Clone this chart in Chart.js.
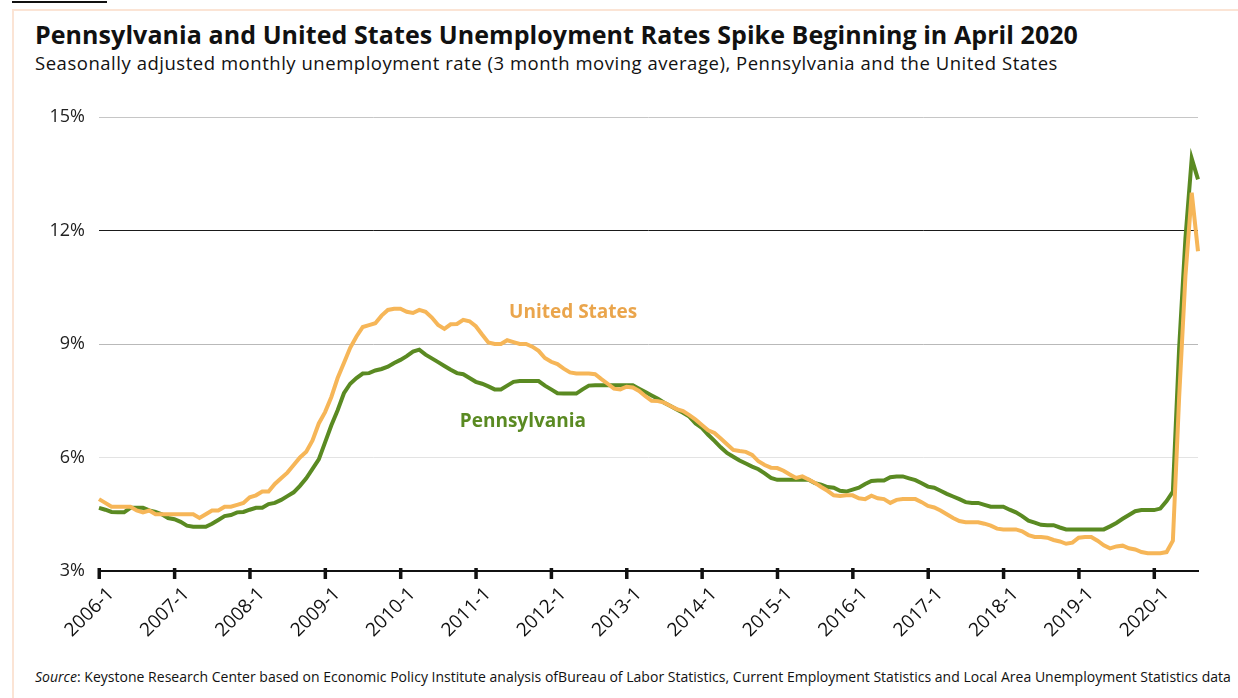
<!DOCTYPE html>
<html>
<head>
<meta charset="utf-8">
<script src="https://cdn.jsdelivr.net/npm/chart.js@4.4.0/dist/chart.umd.min.js"></script>
<style>
  body { margin: 0; width: 1238px; height: 698px; overflow: hidden; position: relative; background: #fff; font-family: 'Open Sans', sans-serif; color: #111; }
  #frame { position: absolute; left: 12px; top: 9px; width: 1240px; height: 700px; border: 2px solid #fbe4d5; }
  #figmark { position: absolute; left: 12px; top: 1px; width: 95px; height: 2px; background: #111; }
  .txt { position: absolute; left: 35px; white-space: nowrap; line-height: 1; }
  #title { top: 22px; font-size: 25px; font-weight: 700; }
  #subtitle { top: 54px; font-size: 18.5px; }
  #source { top: 670px; font-size: 14px; }
  #wrap { position: absolute; left: 0; top: 0; width: 1238px; height: 698px; }
</style>
</head>
<body>
<div id="frame"></div>
<div id="figmark"></div>
<div id="title" class="txt">Pennsylvania and United States Unemployment Rates Spike Beginning in April 2020</div>
<div id="subtitle" class="txt">Seasonally adjusted monthly unemployment rate (3 month moving average), Pennsylvania and the United States</div>
<div id="source" class="txt"><i>Source</i>: Keystone Research Center based on Economic Policy Institute analysis ofBureau of Labor Statistics, Current Employment Statistics and Local Area Unemployment Statistics data</div>
<div id="wrap"><canvas id="myChart"></canvas></div>
<script>
// monthly categories, 2006-1 through 2020-8
const firstYear = 2006;
const lastYear = 2020;
const lastMonth = 8;
const labels = [];
for (let y = firstYear; y <= lastYear; y++) {
    for (let m = 1; m <= 12; m++) {
        if (y === lastYear && m > lastMonth) break;
        labels.push(y + '-' + m);
    }
}

// United States, 3 month moving average (%)
const usRate = [
    4.9, 4.8, 4.7, 4.7, 4.7, 4.7, 4.6, 4.55, 4.6, 4.5, 4.5, 4.5,        // 2006
    4.5, 4.5, 4.5, 4.5, 4.4, 4.5, 4.6, 4.6, 4.7, 4.7, 4.75, 4.8,        // 2007
    4.95, 5.0, 5.1, 5.1, 5.3, 5.45, 5.6, 5.8, 6.0, 6.15, 6.45, 6.9,     // 2008
    7.2, 7.6, 8.1, 8.5, 8.9, 9.2, 9.45, 9.5, 9.55, 9.75, 9.9, 9.93,     // 2009
    9.93, 9.85, 9.82, 9.9, 9.85, 9.7, 9.5, 9.4, 9.52, 9.53, 9.64, 9.6,  // 2010
    9.47, 9.25, 9.04, 9.0, 9.0, 9.1, 9.05, 9.0, 9.0, 8.93, 8.82, 8.63,  // 2011
    8.53, 8.47, 8.35, 8.25, 8.22, 8.22, 8.22, 8.2, 8.07, 7.95, 7.82, 7.8, // 2012
    7.87, 7.85, 7.76, 7.62, 7.5, 7.49, 7.45, 7.36, 7.28, 7.23, 7.12, 7.0, // 2013
    6.86, 6.72, 6.65, 6.5, 6.35, 6.2, 6.17, 6.15, 6.07, 5.9, 5.8, 5.73, // 2014
    5.72, 5.65, 5.55, 5.46, 5.5, 5.42, 5.33, 5.22, 5.12, 5.0, 4.98, 5.0, // 2015
    5.0, 4.92, 4.9, 4.99, 4.92, 4.9, 4.8, 4.88, 4.9, 4.9, 4.9, 4.82,   // 2016
    4.72, 4.68, 4.6, 4.5, 4.4, 4.32, 4.29, 4.29, 4.29, 4.25, 4.2, 4.12, // 2017
    4.1, 4.1, 4.1, 4.05, 3.95, 3.9, 3.9, 3.88, 3.82, 3.78, 3.72, 3.75, // 2018
    3.88, 3.9, 3.9, 3.8, 3.68, 3.6, 3.65, 3.67, 3.6, 3.57, 3.5, 3.47,  // 2019
    3.47, 3.47, 3.5, 3.8, 7.6, 10.8, 13.0, 11.45                       // 2020
];

// Pennsylvania, 3 month moving average (%)
const paRate = [
    4.67, 4.62, 4.56, 4.55, 4.55, 4.67, 4.67, 4.67, 4.6, 4.56, 4.5, 4.4,   // 2006
    4.37, 4.3, 4.2, 4.17, 4.17, 4.17, 4.25, 4.35, 4.45, 4.48, 4.55, 4.56,  // 2007
    4.62, 4.67, 4.67, 4.77, 4.8, 4.88, 4.98, 5.08, 5.25, 5.45, 5.7, 5.95,  // 2008
    6.4, 6.85, 7.25, 7.7, 7.95, 8.1, 8.22, 8.23, 8.3, 8.34, 8.4, 8.5,      // 2009
    8.58, 8.68, 8.8, 8.85, 8.72, 8.62, 8.52, 8.42, 8.32, 8.23, 8.2, 8.1,   // 2010
    8.0, 7.95, 7.88, 7.8, 7.8, 7.9, 8.0, 8.02, 8.02, 8.02, 8.02, 7.9,      // 2011
    7.8, 7.7, 7.69, 7.69, 7.69, 7.8, 7.9, 7.91, 7.91, 7.91, 7.91, 7.91,    // 2012
    7.91, 7.91, 7.82, 7.73, 7.64, 7.55, 7.45, 7.36, 7.27, 7.18, 7.08, 6.9, // 2013
    6.78, 6.6, 6.44, 6.27, 6.12, 6.02, 5.92, 5.84, 5.76, 5.69, 5.58, 5.46, // 2014
    5.41, 5.41, 5.41, 5.41, 5.41, 5.41, 5.32, 5.28, 5.22, 5.2, 5.12, 5.1,  // 2015
    5.15, 5.2, 5.3, 5.38, 5.39, 5.39, 5.48, 5.5, 5.5, 5.45, 5.4, 5.32,     // 2016
    5.23, 5.2, 5.12, 5.04, 4.97, 4.9, 4.82, 4.8, 4.8, 4.75, 4.7, 4.7,      // 2017
    4.7, 4.62, 4.55, 4.45, 4.33, 4.28, 4.22, 4.21, 4.21, 4.15, 4.1, 4.1,   // 2018
    4.1, 4.1, 4.1, 4.1, 4.1, 4.18, 4.27, 4.38, 4.48, 4.58, 4.61, 4.61,     // 2019
    4.61, 4.65, 4.85, 5.1, 8.9, 11.8, 13.9, 13.35                          // 2020
];

const yTicks = [3, 6, 9, 12, 15];

const usColor = '#f6b658';
const paColor = '#5a8a22';

// line labels, placed in data coordinates (category index, rate)
const lineNotes = [
    { text: 'United States', index: 75.5, value: 9.69, color: '#eaa54c' },
    { text: 'Pennsylvania', index: 67.5, value: 6.8, color: paColor }
];

function fitWidth(id, target) {
    const el = document.getElementById(id);
    const w = el.getBoundingClientRect().width;
    const n = el.textContent.length;
    el.style.letterSpacing = ((target - w) / n).toFixed(3) + 'px';
}
fitWidth('title', 1043);
fitWidth('subtitle', 1023);
fitWidth('source', 1196);

// year tick marks crossing the axis line
const yearTicks = {
    id: 'yearTicks',
    afterDraw(chart) {
        const { ctx, chartArea, scales } = chart;
        ctx.save();
        ctx.fillStyle = '#111';
        labels.forEach((lab, i) => {
            if (lab.split('-')[1] !== '1') return;
            const px = scales.x.getPixelForValue(i);
            ctx.fillRect(px - 1.5, chartArea.bottom - 3, 3.5, 11);
        });
        ctx.restore();
    }
};

const noteLabels = {
    id: 'noteLabels',
    afterDatasetsDraw(chart) {
        const { ctx, scales } = chart;
        ctx.save();
        ctx.font = 'bold 19px "Open Sans", sans-serif';
        ctx.textAlign = 'center';
        ctx.textBaseline = 'alphabetic';
        lineNotes.forEach(n => {
            ctx.fillStyle = n.color;
            ctx.fillText(n.text, scales.x.getPixelForValue(n.index), scales.y.getPixelForValue(n.value));
        });
        ctx.restore();
    }
};

function gridColor(value) {
    if (value === 3) return 'rgba(0,0,0,0)';
    if (value === 12) return '#1a1a1a';
    if (value === 9) return '#b9b9b9';
    if (value === 15) return '#c6c6c6';
    return '#e3e3e3';
}

const ctx = document.getElementById('myChart').getContext('2d');
const chart = new Chart(ctx, {
    type: 'line',
    data: {
        labels: labels,
        datasets: [{
            label: 'United States',
            data: usRate,
            borderColor: usColor,
            borderWidth: 4,
            fill: false,
            tension: 0
        }, {
            label: 'Pennsylvania',
            data: paRate,
            borderColor: paColor,
            borderWidth: 4,
            fill: false,
            tension: 0
        }]
    },
    options: {
        responsive: true,
        maintainAspectRatio: false,
        animation: false,
        layout: {
            padding: { top: 117, right: 40, left: 0, bottom: 0 }
        },
        elements: {
            point: { radius: 0 }
        },
        plugins: {
            legend: { display: false },
            tooltip: { enabled: false }
        },
        scales: {
            x: {
                offset: false,
                grid: { display: false, drawTicks: false },
                border: { display: true, color: '#111', width: 2 },
                ticks: {
                    autoSkip: false,
                    maxRotation: 45,
                    minRotation: 45,
                    padding: 12,
                    labelOffset: 12,
                    color: '#111',
                    font: { family: 'Open Sans', size: 19 },
                    callback: function (value, index) {
                        const lab = labels[index];
                        return lab.split('-')[1] === '1' ? lab : null;
                    }
                },
                afterFit: function (scale) {
                    scale.height = 127;
                }
            },
            y: {
                min: 3,
                max: 15,
                afterBuildTicks: function (scale) {
                    scale.ticks = yTicks.map(v => ({ value: v }));
                },
                grid: {
                    drawTicks: false,
                    lineWidth: 1,
                    color: c => gridColor(c.tick.value)
                },
                border: { display: false },
                ticks: {
                    padding: 14,
                    color: '#222',
                    font: { family: 'Open Sans', size: 18 },
                    callback: function (value) {
                        return value + '%';
                    }
                },
                afterFit: function (scale) {
                    scale.width = 99;
                }
            }
        }
    },
    plugins: [yearTicks, noteLabels]
});
</script>
</body>
</html>
